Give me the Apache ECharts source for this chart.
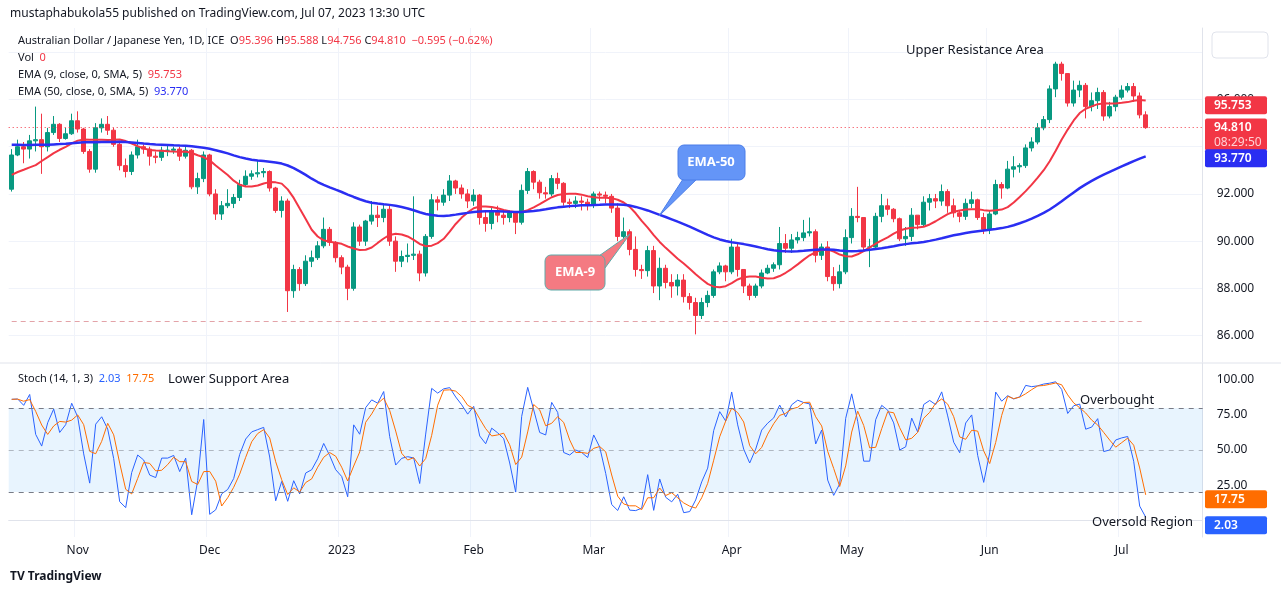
<!DOCTYPE html>
<html><head><meta charset="utf-8">
<script src="https://cdn.jsdelivr.net/npm/echarts@6/dist/echarts.min.js"></script>
<style>html,body{margin:0;padding:0;background:#fff}#c{width:1281px;height:595px}</style>
</head><body><div id="c"></div>
<script>
const closes = [
93.65,94.0,93.9,94.25,94.3,94.0,94.6,94.95,94.35,94.55,
95.1,94.75,93.8,93.05,94.8,94.95,94.7,94.1,93.2,92.95,
93.65,94.0,93.9,93.6,93.55,93.85,93.85,93.9,93.6,93.85,
92.3,92.65,93.65,92.0,91.15,
91.5,91.6,91.85,92.4,92.75,92.85,92.9,92.95,92.25,91.3,
91.7,87.9,88.8,88.2,89.15,89.3,89.8,90.5,89.95,89.3,
88.9,88.0,90.6,90.0,90.85,91.1,91.0,91.35,90.0,89.15,
89.35,89.4,89.45,88.65,90.2,91.75,
91.65,91.95,92.55,92.25,92.0,91.7,91.95,91.0,90.75,91.25,
91.1,91.0,91.2,90.8,92.15,92.95,92.5,92.05,92.0,92.65,
92.45,91.65,91.6,91.7,91.65,91.55,92.0,91.95,91.9,91.4,
90.2,90.4,89.65,88.8,
88.75,89.6,88.1,88.85,88.25,88.1,88.35,87.65,87.4,86.85,
87.4,87.7,88.7,88.95,88.7,89.75,88.8,88.1,87.7,88.1,
88.65,88.85,89.0,89.9,89.7,90.05,90.15,90.35,90.4,89.4,
89.75,88.5,88.2,88.7,90.15,
91.05,91.0,89.75,89.75,91.05,91.5,91.35,90.95,90.1,90.2,
91.1,90.7,91.65,91.8,91.7,92.1,91.5,91.2,91.05,91.6,
91.75,91.0,90.5,91.15,92.4,92.25,93.05,93.15,93.2,93.95,
94.2,94.8,
95.15,96.45,97.5,97.1,95.85,96.4,96.6,95.7,95.95,96.3,
95.3,95.7,96.1,96.4,96.55,96.15,95.35,94.81];
const highs = [
93.9,94.3,94.2,94.5,95.7,95.4,94.8,95.3,95.0,94.8,
95.4,95.5,94.8,93.9,95.0,95.2,95.3,94.8,94.2,93.5,
93.8,94.3,94.1,94.0,93.8,94.0,94.1,94.0,94.0,94.0,
93.9,92.9,93.8,93.7,92.2,
91.7,92.2,92.0,92.6,93.0,93.0,93.4,93.1,93.0,92.3,
91.9,91.8,89.0,88.9,89.4,89.6,90.0,91.0,90.6,90.0,
89.4,89.0,90.8,90.7,90.9,91.7,91.5,91.6,91.5,90.2,
89.6,89.9,91.9,89.6,90.3,92.0,
91.9,92.2,92.8,92.6,92.4,92.2,92.2,92.0,91.3,91.4,
91.5,91.3,91.3,91.2,92.4,93.1,93.0,92.6,92.3,92.8,
92.9,92.5,91.8,91.9,91.9,91.8,92.1,92.1,92.1,92.0,
91.6,91.0,90.5,90.2,
89.0,89.8,89.8,89.3,89.0,88.6,88.6,88.6,87.8,87.6,
87.6,87.9,88.8,89.1,89.0,90.1,89.9,88.8,88.2,88.2,
88.8,89.0,89.1,90.6,90.3,90.3,90.4,90.9,91.0,90.5,
89.9,90.0,88.9,89.0,90.5,
91.4,92.3,91.0,90.1,91.2,92.0,91.8,91.4,91.0,90.6,
91.4,91.1,91.9,92.0,92.0,92.4,92.2,91.8,91.3,91.8,
92.1,91.8,91.2,91.3,92.6,92.5,93.4,93.6,93.3,94.1,
94.4,95.0,
95.3,96.6,97.6,97.6,97.0,96.8,96.8,96.7,96.3,96.5,
96.4,95.9,96.2,96.6,96.7,96.7,96.3,95.5];
const lows = [
92.1,93.6,93.3,93.5,93.8,92.85,93.8,94.5,94.2,94.3,
94.5,94.6,93.7,92.9,92.9,94.6,94.5,94.0,93.0,92.7,
92.8,93.5,93.7,93.2,93.3,93.4,93.6,93.7,93.4,93.5,
92.2,92.0,92.5,91.9,90.9,
90.9,91.4,91.4,91.7,92.3,92.6,92.7,92.7,92.1,91.2,
91.0,87.0,87.6,87.9,88.1,88.9,89.2,89.7,89.8,89.1,
88.6,87.5,87.9,89.8,89.8,90.7,90.6,90.8,89.8,88.7,
88.9,89.1,89.2,88.3,88.5,90.1,
91.3,91.5,91.7,92.0,91.8,91.4,91.5,90.7,90.4,90.5,
90.8,90.7,90.8,90.3,90.7,92.0,92.2,91.8,91.8,91.9,
92.2,91.5,91.4,91.4,91.3,91.3,91.4,91.7,91.6,91.2,
90.0,89.9,89.4,88.5,
88.4,88.5,87.8,87.5,88.0,87.6,87.7,87.4,87.1,86.05,
86.7,87.2,87.6,88.6,88.3,88.6,88.5,87.8,87.5,87.6,
88.0,88.6,88.7,88.8,89.5,89.5,89.9,90.0,90.2,89.1,
89.2,88.3,87.9,88.0,88.6,
89.9,90.8,89.6,88.9,89.7,90.8,91.1,90.8,90.0,89.8,
90.0,90.5,90.6,91.3,91.4,91.5,91.2,91.0,90.8,90.9,
91.4,90.9,90.3,90.3,91.1,91.8,92.2,92.7,92.9,93.1,
93.8,94.1,
94.7,95.0,96.1,96.8,95.7,95.7,96.1,95.2,95.5,95.6,
95.1,95.2,95.5,96.0,96.3,95.9,95.2,94.76];
const firstOpen = 92.2;
const emaSeed9 = 92.6, emaSeed50 = 94.1;
const priceTicks = [86,88,90,92,94,96,98];
const stochTicks = [25,50,75,100];
const monthNames = ['Jan','Feb','Mar','Apr','May','Jun','Jul','Aug','Sep','Oct','Nov','Dec'];
const legendVals = {o:'95.396',h:'95.588',l:'94.756',c:'94.810',chg:'−0.595 (−0.62%)',ema9:'95.753',ema50:'93.770',k:'2.03',d:'17.75'};

const dates=[]; {let d=new Date(Date.UTC(2022,9,17)); while(dates.length<199){const w=d.getUTCDay(); if(w>0&&w<6) dates.push(d.toISOString().slice(0,10)); d=new Date(d.getTime()+86400000);} }
const ohlc=closes.map((c,i)=>{const o=i?closes[i-1]:firstOpen;return [o,c,Math.min(lows[i],o,c),Math.max(highs[i],o,c)];});
function ema(p,seed){const k=2/(p+1);let e=seed;return closes.map(c=>(e=c*k+e*(1-k)));}
function sma(a,p){return a.map((v,i)=>{const s=a.slice(Math.max(0,i-p+1),i+1);return s.reduce((x,y)=>x+y,0)/s.length;});}
const e9=sma(ema(9,emaSeed9),5), e50=sma(ema(50,emaSeed50),5);
const K=closes.map((c,i)=>{const s=Math.max(0,i-13);const ll=Math.min(...ohlc.slice(s,i+1).map(r=>r[2]));const hh=Math.max(...ohlc.slice(s,i+1).map(r=>r[3]));return 100*(c-ll)/(hh-ll);});
const D=sma(K,3);
const isMonthStart=i=>i>0&&dates[i].slice(5,7)!==dates[i-1].slice(5,7);
const monthLabel=v=>{const m=+v.slice(5,7);return m===1?v.slice(0,4):monthNames[m-1];};
const GREEN='#089981',RED='#f23645';
const chart=echarts.init(document.getElementById('c'));
const font='"Noto Sans", Roboto, sans-serif';
chart.setOption({
 animation:false,
 textStyle:{fontFamily:font},
 grid:[{left:8.7,width:1194,top:28,height:334},{left:8.7,width:1194,top:363,height:174}],
 xAxis:[
  {type:'category',gridIndex:0,data:dates,axisLine:{show:false},axisTick:{show:false},axisLabel:{show:false},
   splitLine:{show:true,interval:(i)=>isMonthStart(i),lineStyle:{color:'#f0f3fa'}}},
  {type:'category',gridIndex:1,data:dates,axisLine:{show:true,lineStyle:{color:'#e0e3eb'}},axisTick:{show:false},
   axisLabel:{interval:(i)=>isMonthStart(i),formatter:monthLabel,color:'#131722',fontSize:12,margin:8},
   splitLine:{show:true,interval:(i)=>isMonthStart(i),lineStyle:{color:'#f0f3fa'}}}
 ],
 yAxis:[
  {type:'value',gridIndex:0,position:'right',min:84.88,max:99.03,axisLine:{show:true,lineStyle:{color:'#e0e3eb'}},
   axisTick:{show:false,customValues:priceTicks},axisLabel:{customValues:priceTicks,formatter:v=>v.toFixed(3),color:'#131722',fontSize:12,margin:14},
   splitLine:{show:true,lineStyle:{color:'#f0f3fa'}}},
  {type:'value',gridIndex:1,position:'right',min:-12,max:112,axisLine:{show:true,lineStyle:{color:'#e0e3eb'}},
   axisTick:{show:false,customValues:stochTicks},axisLabel:{customValues:stochTicks,formatter:v=>v.toFixed(2),color:'#131722',fontSize:12,margin:14},
   splitLine:{show:false}}
 ],
 series:[
  {type:'candlestick',xAxisIndex:0,yAxisIndex:0,data:ohlc,barWidth:4,
   itemStyle:{color:GREEN,color0:RED,borderColor:GREEN,borderColor0:RED,borderWidth:1},
   markLine:{silent:true,symbol:'none',label:{show:false},data:[
     {yAxis:94.81,lineStyle:{color:RED,type:[1,3],width:1}},
     [{coord:[0,86.62],lineStyle:{color:'#e3a3a8',type:[5,4],width:1}},{coord:[189,86.62]}]
   ]}},
  {type:'line',xAxisIndex:0,yAxisIndex:0,data:e9,showSymbol:false,lineStyle:{color:RED,width:2},z:3},
  {type:'line',xAxisIndex:0,yAxisIndex:0,data:e50,showSymbol:false,lineStyle:{color:'#2a2ef2',width:2.5},z:3},
  {type:'line',xAxisIndex:1,yAxisIndex:1,data:K,showSymbol:false,lineStyle:{color:'#2962ff',width:1},
   markArea:{silent:true,itemStyle:{color:'rgba(33,150,243,0.1)'},data:[[{yAxis:20},{yAxis:80}]]},
   markLine:{silent:true,symbol:'none',label:{show:false},data:[
     {yAxis:80,lineStyle:{color:'#787b86',type:[5,5],width:1}},
     {yAxis:50,lineStyle:{color:'rgba(120,123,134,0.5)',type:[5,5],width:1}},
     {yAxis:20,lineStyle:{color:'#787b86',type:[5,5],width:1}}]}},
  {type:'line',xAxisIndex:1,yAxisIndex:1,data:D,showSymbol:false,lineStyle:{color:'#ff6d00',width:1}}
 ]
});
function py(v){return chart.convertToPixel({yAxisIndex:0},v);}
function sy(v){return chart.convertToPixel({yAxisIndex:1},v);}
function tag(y,h,color,txt){return {type:'group',z:100,children:[
  {type:'rect',z:100,shape:{x:1205,y:y-h/2,width:62,height:h,r:2},style:{fill:color}},
  {type:'text',z:101,style:{x:1214,y:y-h/2+3,text:txt,fill:'#fff',font:'600 12px '+font}}]};}
const T=(x,y,text,size,color,extra)=>({type:'text',z:100,style:Object.assign({x,y,text,fill:color||'#131722',font:(size||12)+'px '+font},extra||{})});
const rt=(x,y,parts)=>({type:'text',z:100,style:{x,y,rich:{a:{fill:'#131722',fontSize:11,fontFamily:font},r:{fill:RED,fontSize:11,fontFamily:font},b:{fill:'#2a2ef2',fontSize:11,fontFamily:font},k:{fill:'#2962ff',fontSize:11,fontFamily:font},d:{fill:'#ff6d00',fontSize:11,fontFamily:font}},text:parts}});
chart.setOption({graphic:[
 T(10,8,'mustaphabukola55 published on TradingView.com, Jul 07, 2023 13:30 UTC',12,'#131722'),
 rt(18,35,'{a|Australian Dollar / Japanese Yen, 1D, ICE  O}{r|'+legendVals.o+'}{a| H}{r|'+legendVals.h+'}{a| L}{r|'+legendVals.l+'}{a| C}{r|'+legendVals.c+'  '+legendVals.chg+'}'),
 rt(18,52,'{a|Vol  }{r|0}'),
 rt(18,69,'{a|EMA (9, close, 0, SMA, 5)  }{r|'+legendVals.ema9+'}'),
 rt(18,86,'{a|EMA (50, close, 0, SMA, 5)  }{b|'+legendVals.ema50+'}'),
 rt(18,373,'{a|Stoch (14, 1, 3)  }{k|'+legendVals.k+'}{a|  }{d|'+legendVals.d+'}'),
 T(168,373,'Lower Support Area',13,'#131722'),
 T(906,44,'Upper Resistance Area',13,'#131722'),
 T(1080,394,'Overbought',13,'#131722'),
 T(1092,516,'Oversold Region',13,'#131722'),
 {type:'rect',z:100,shape:{x:1212,y:32,width:56,height:26,r:4},style:{fill:'#fff',stroke:'#e0e3eb'}},
 {type:'polygon',z:100,shape:{points:[[685,176],[700,176],[659,216]]},style:{fill:'#6495f7',stroke:'#4a7de8'}},
 {type:'rect',z:100,shape:{x:678,y:145,width:67,height:35,r:6},style:{fill:'#6495f7',stroke:'#4a7de8'}},
 T(711,162,'EMA-50',13,'#fff',{align:'center',verticalAlign:'middle',font:'bold 13px '+font}),
 {type:'polygon',z:100,shape:{points:[[596,258],[605,268],[630,234]]},style:{fill:'#f47a82',stroke:'#5fa9a8'}},
 {type:'rect',z:100,shape:{x:545,y:255,width:60,height:35,r:6},style:{fill:'#f47a82',stroke:'#5fa9a8'}},
 T(575,272,'EMA-9',13,'#fff',{align:'center',verticalAlign:'middle',font:'bold 13px '+font}),
 tag(py(95.753),18,RED,legendVals.ema9),
 {type:'group',z:100,children:[{type:'rect',z:100,shape:{x:1205,y:py(94.81)-9,width:62,height:32,r:2},style:{fill:RED}},
   T(1214,py(94.81)-6,'94.810',12,'#fff',{font:'600 12px '+font}),T(1214,py(94.81)+9,'08:29:50',12,'#ffd1d4',{font:'12px '+font})]},
 tag(py(93.77)+6,18,'#2a2ef2',legendVals.ema50),
 tag(sy(17.75)+4,18,'#ff6d00',legendVals.d),
 tag(sy(2.03)+8,18,'#2962ff',legendVals.k),
 {type:'line',z:100,shape:{x1:0,y1:363,x2:1281,y2:363},style:{stroke:'#e0e3eb'}},
 {type:'text',z:100,style:{x:10,y:571,text:'TV TradingView',fill:'#131722',font:'bold 12px '+font}}
]});
</script></body></html>
